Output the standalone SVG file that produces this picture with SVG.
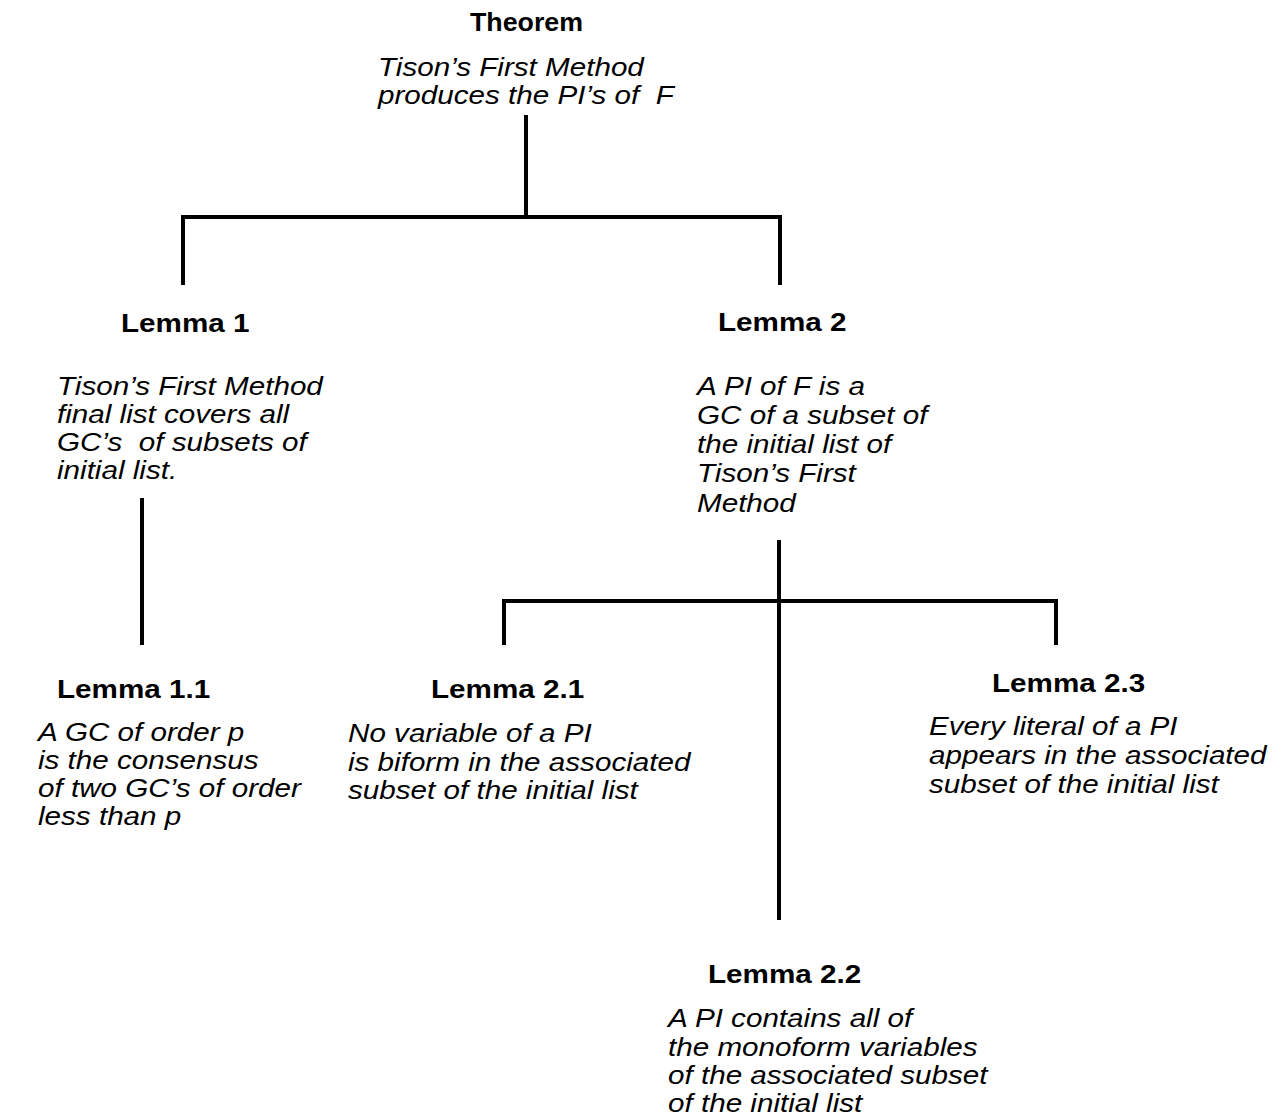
<svg xmlns="http://www.w3.org/2000/svg" width="1285" height="1119" viewBox="0 0 1285 1119">
<style>
text{font-family:"Liberation Sans",Arial,Helvetica,sans-serif;font-size:26px;fill:#000;white-space:pre}
.t{font-weight:bold}
.b{font-style:italic}
.c{stroke:#000;stroke-width:4;fill:none;stroke-linecap:butt}
</style>
<rect width="1285" height="1119" fill="#fff"/>
<g id="connectors">
<path class="c" d="M526 115V217M183 285V217H780V285"/>
<path class="c" d="M142 498V645"/>
<path class="c" d="M779 540V920M504 645V601H1056V645"/>
</g>
<g id="theorem">
<text class="t" transform="matrix(1.03 0 0 1 470 0)" y="31">Theorem</text>
<text class="b" transform="matrix(1.14 0 0 1 378 0)"><tspan x="0" y="76">Tison’s First Method</tspan><tspan x="0" y="104">produces the PI’s of  F</tspan></text>
</g>
<g id="lemma1">
<text class="t" transform="matrix(1.14 0 0 1 121 0)" y="332">Lemma 1</text>
<text class="b" transform="matrix(1.14 0 0 1 57 0)"><tspan x="0" y="395">Tison’s First Method</tspan><tspan x="0" y="423">final list covers all</tspan><tspan x="0" y="451">GC’s  of subsets of</tspan><tspan x="0" y="479">initial list.</tspan></text>
</g>
<g id="lemma2">
<text class="t" transform="matrix(1.14 0 0 1 718 0)" y="331">Lemma 2</text>
<text class="b" transform="matrix(1.14 0 0 1 697 0)"><tspan x="0" y="395">A PI of F is a</tspan><tspan x="0" y="424">GC of a subset of</tspan><tspan x="0" y="453">the initial list of</tspan><tspan x="0" y="482">Tison’s First</tspan><tspan x="0" y="512">Method</tspan></text>
</g>
<g id="lemma1_1">
<text class="t" transform="matrix(1.14 0 0 1 57 0)" y="698">Lemma 1.1</text>
<text class="b" transform="matrix(1.14 0 0 1 38 0)"><tspan x="0" y="741">A GC of order p</tspan><tspan x="0" y="769">is the consensus</tspan><tspan x="0" y="797">of two GC’s of order</tspan><tspan x="0" y="825">less than p</tspan></text>
</g>
<g id="lemma2_1">
<text class="t" transform="matrix(1.14 0 0 1 431 0)" y="698">Lemma 2.1</text>
<text class="b" transform="matrix(1.14 0 0 1 348 0)"><tspan x="0" y="742">No variable of a PI</tspan><tspan x="0" y="771">is biform in the associated</tspan><tspan x="0" y="799">subset of the initial list</tspan></text>
</g>
<g id="lemma2_3">
<text class="t" transform="matrix(1.14 0 0 1 992 0)" y="692">Lemma 2.3</text>
<text class="b" transform="matrix(1.14 0 0 1 929 0)"><tspan x="0" y="735">Every literal of a PI</tspan><tspan x="0" y="764">appears in the associated</tspan><tspan x="0" y="793">subset of the initial list</tspan></text>
</g>
<g id="lemma2_2">
<text class="t" transform="matrix(1.14 0 0 1 708 0)" y="983">Lemma 2.2</text>
<text class="b" transform="matrix(1.14 0 0 1 668 0)"><tspan x="0" y="1027">A PI contains all of</tspan><tspan x="0" y="1056">the monoform variables</tspan><tspan x="0" y="1084">of the associated subset</tspan><tspan x="0" y="1112">of the initial list</tspan></text>
</g>
</svg>
